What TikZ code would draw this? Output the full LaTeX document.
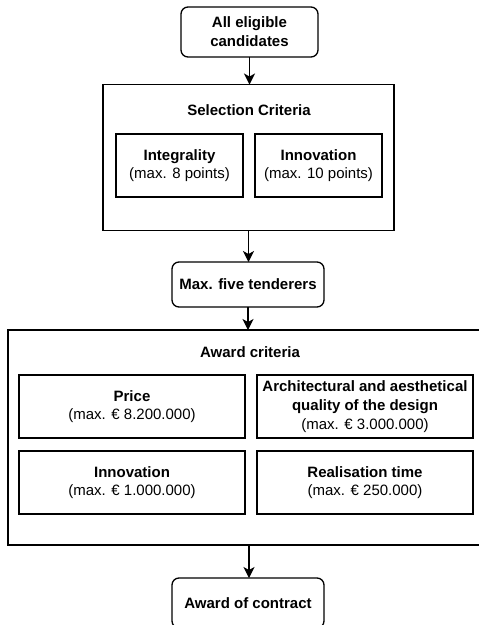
\documentclass[tikz,border=0pt]{standalone}
\usepackage{fontspec}
\setmainfont{Liberation Sans}
\usetikzlibrary{arrows.meta}
\begin{document}
\begin{tikzpicture}[x=1pt,y=-1pt,
  every node/.style={inner sep=0pt,outer sep=0pt,align=center,font=\fontsize{15}{18.75}\selectfont},
  box/.style={draw,line width=1.3pt,rectangle},
  rbox/.style={box,rounded corners=7pt},
  conn/.style={line width=1.3pt,-{Stealth[length=11pt,width=11pt,inset=3pt]}}]
\useasboundingbox (0,0) rectangle (479,625);
% top
\node[rbox,minimum width=137pt,minimum height=50pt] (top) at (249.5,32) {\bfseries All eligible\\\bfseries candidates};
% selection criteria
\node[box,minimum width=291pt,minimum height=146pt] (sel) at (248.5,157.5) {};
\node (selt) at (249,110) {\bfseries Selection Criteria};
\node[box,minimum width=127pt,minimum height=63pt] (integ) at (179.5,165.5) {\bfseries Integrality\\(max. 8 points)};
\node[box,minimum width=127pt,minimum height=63pt] (inn1) at (318.5,165.5) {\bfseries Innovation\\(max. 10 points)};
% max five
\node[rbox,minimum width=152pt,minimum height=45pt] (max) at (248,284.5) {\bfseries Max. five tenderers};
% award criteria
\node[box,minimum width=482pt,minimum height=215pt] (award) at (249,437.5) {};
\node (awt) at (250,352) {\bfseries Award criteria};
\node[box,minimum width=226pt,minimum height=63pt] (price) at (132,406.5) {\bfseries Price\\(max. € 8.200.000)};
\node[box,minimum width=216pt,minimum height=63pt] (arch) at (365,406.5) {\bfseries Architectural and aesthetical\\\bfseries quality of the design\\(max. € 3.000.000)};
\node[box,minimum width=226pt,minimum height=63pt] (inn2) at (132,482.5) {\bfseries Innovation\\(max. € 1.000.000)};
\node[box,minimum width=216pt,minimum height=63pt] (real) at (365,482.5) {\bfseries Realisation time\\(max. € 250.000)};
% contract
\node[rbox,minimum width=152pt,minimum height=50pt] (contract) at (248,603) {\bfseries Award of contract};
% connectors
\draw[conn] (top.south) -- (top.south |- sel.north);
\draw[conn] (sel.south) -- (sel.south |- max.north);
\draw[conn] (max.south) -- (max.south |- award.north);
\draw[conn] (award.south) -- (award.south |- contract.north);
\end{tikzpicture}
\end{document}
